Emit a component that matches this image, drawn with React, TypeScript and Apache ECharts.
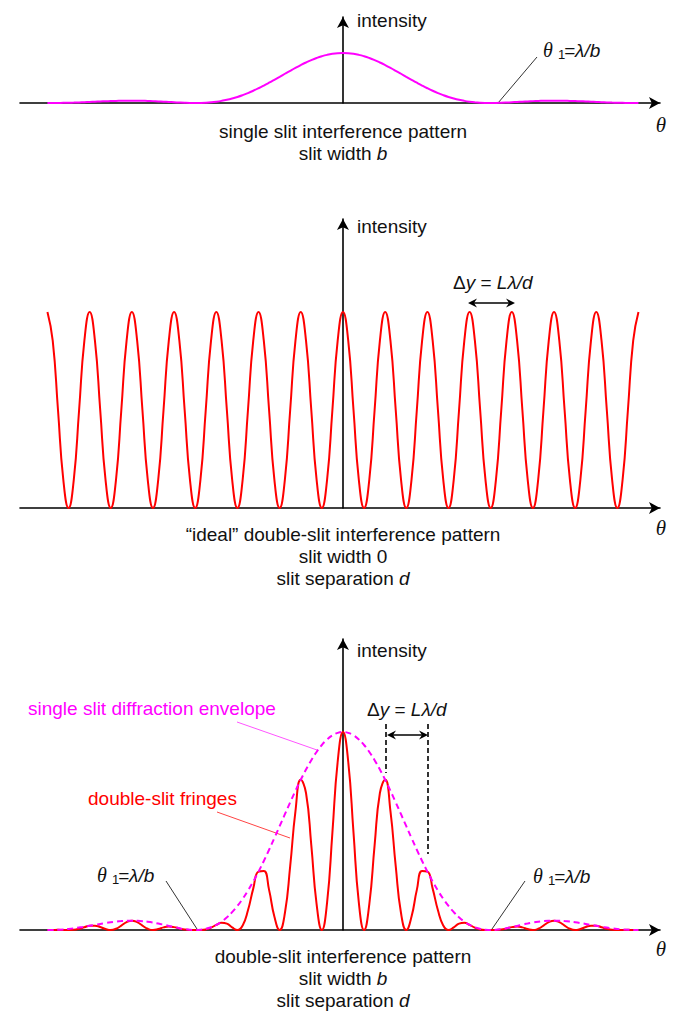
import React, { useEffect, useRef } from "react";
import * as echarts from "echarts";

// sampling positions along theta (in units of fringe spacing), right half; left half is the mirror image
const X_HALF = [
  0, 0.125, 0.25, 0.375, 0.5, 0.625, 0.75, 0.875,
  1, 1.125, 1.25, 1.375, 1.5, 1.625, 1.75, 1.875,
  2, 2.125, 2.25, 2.375, 2.5, 2.625, 2.75, 2.875,
  3, 3.125, 3.25, 3.375, 3.5, 3.625, 3.75, 3.875,
  4, 4.125, 4.25, 4.375, 4.5, 4.625, 4.75, 4.875,
  5, 5.125, 5.25, 5.375, 5.5, 5.625, 5.75, 5.875,
  6, 6.125, 6.25, 6.375, 6.5, 6.625, 6.75, 6.875,
  7,
];

// single slit intensity (normalised), read at X_HALF
const SINGLE_SLIT_HALF = [
  1, 0.9958, 0.9833, 0.9628, 0.9346, 0.8994, 0.8578, 0.8106,
  0.7587, 0.7031, 0.6448, 0.5849, 0.5243, 0.4641, 0.4053, 0.3486,
  0.2949, 0.2449, 0.199, 0.1578, 0.1214, 0.0901, 0.0638, 0.0425,
  0.026, 0.0139, 0.0058, 0.0014, 0, 0.0012, 0.0044, 0.009,
  0.0146, 0.0207, 0.0267, 0.0324, 0.0375, 0.0416, 0.0447, 0.0465,
  0.0472, 0.0467, 0.045, 0.0424, 0.039, 0.035, 0.0305, 0.0258,
  0.0211, 0.0165, 0.0124, 0.0086, 0.0055, 0.0031, 0.0014, 0.0003,
  0,
];

// ideal double slit intensity (normalised), read at X_HALF
const IDEAL_HALF = [
  1, 0.8536, 0.5, 0.1464, 0, 0.1464, 0.5, 0.8536,
  1, 0.8536, 0.5, 0.1464, 0, 0.1464, 0.5, 0.8536,
  1, 0.8536, 0.5, 0.1464, 0, 0.1464, 0.5, 0.8536,
  1, 0.8536, 0.5, 0.1464, 0, 0.1464, 0.5, 0.8536,
  1, 0.8536, 0.5, 0.1464, 0, 0.1464, 0.5, 0.8536,
  1, 0.8536, 0.5, 0.1464, 0, 0.1464, 0.5, 0.8536,
  1, 0.8536, 0.5, 0.1464, 0, 0.1464, 0.5, 0.8536,
  1,
];

// real double slit fringes (normalised), read at X_HALF
const FRINGES_HALF = [
  1, 0.85, 0.4917, 0.141, 0, 0.1317, 0.4289, 0.6919,
  0.7587, 0.6001, 0.3224, 0.0857, 0, 0.068, 0.2026, 0.2976,
  0.2949, 0.209, 0.0995, 0.0231, 0, 0.0132, 0.0319, 0.0363,
  0.026, 0.0118, 0.0029, 0.0002, 0, 0.0002, 0.0022, 0.0077,
  0.0146, 0.0176, 0.0134, 0.0048, 0, 0.0061, 0.0223, 0.0397,
  0.0472, 0.0398, 0.0225, 0.0062, 0, 0.0051, 0.0152, 0.022,
  0.0211, 0.0141, 0.0062, 0.0013, 0, 0.0005, 0.0007, 0.0003,
  0,
];

const Y_MAX = [1.72, 1.474, 1.47];
const X_MIN = -7.65;
const X_MAX = 7.51;

const SANS = '"Liberation Sans", Arial, sans-serif';
const SERIF = '"Liberation Serif", "Times New Roman", serif';
const INK = "#111";
const MAGENTA = "#ff00ff";
const RED = "#ff0000";

function mirror(half: number[]): [number, number][] {
  const out: [number, number][] = [];
  for (let i = X_HALF.length - 1; i > 0; i--) out.push([-X_HALF[i], half[i]]);
  for (let i = 0; i < X_HALF.length; i++) out.push([X_HALF[i], half[i]]);
  return out;
}

const GRIDS = [
  { left: 20, top: 17, width: 640, height: 86 },
  { left: 20, top: 219, width: 640, height: 289 },
  { left: 20, top: 639, width: 640, height: 291 },
];

const axisLine = {
  show: true,
  onZero: true,
  symbol: ["none", "arrow"],
  symbolSize: [9, 11],
  lineStyle: { color: "#000", width: 1.6 },
};

function text(x: number, y: number, str: string, opts: any = {}) {
  const size = opts.size || 19;
  const style = opts.style || "normal";
  const family = opts.family || SANS;
  const align = opts.align || "left";
  return {
    type: "text",
    x,
    y,
    silent: true,
    style: {
      text: str,
      fill: opts.color || INK,
      font: `${style} ${size}px ${family}`,
      fontSize: size,
      fontFamily: family,
      fontStyle: style,
      align,
      textAlign: align,
      verticalAlign: "middle",
      textVerticalAlign: "middle",
    },
  };
}

function richText(x: number, y: number, str: string, align = "center") {
  const tok = (fs: string) => ({
    fontSize: 19,
    fontFamily: SANS,
    fontStyle: fs,
    fill: INK,
    color: INK,
  });
  return {
    type: "text",
    x,
    y,
    silent: true,
    style: {
      text: str,
      fill: INK,
      font: `19px ${SANS}`,
      align,
      textAlign: align,
      verticalAlign: "middle",
      textVerticalAlign: "middle",
      rich: { n: tok("normal"), i: tok("italic") },
    },
  };
}

function seg(x1: number, y1: number, x2: number, y2: number, color = "#333", width = 1, dash?: number[]) {
  return {
    type: "line",
    silent: true,
    shape: { x1, y1, x2, y2 },
    style: { stroke: color, lineWidth: width, lineDash: dash },
  };
}

function doubleArrow(x1: number, x2: number, y: number) {
  return [
    seg(x1 + 2, y, x2 - 2, y, "#000", 1.6),
    {
      type: "polygon",
      silent: true,
      shape: { points: [[x1, y], [x1 + 9, y - 4.5], [x1 + 6, y], [x1 + 9, y + 4.5]] },
      style: { fill: "#000" },
    },
    {
      type: "polygon",
      silent: true,
      shape: { points: [[x2, y], [x2 - 9, y - 4.5], [x2 - 6, y], [x2 - 9, y + 4.5]] },
      style: { fill: "#000" },
    },
  ];
}

function thetaOne(x: number, y: number) {
  return [
    text(x, y, "θ", { style: "italic", family: SERIF, size: 20 }),
    text(x + 15, y + 4, "1", { size: 13 }),
    text(x + 21, y, "=λ/b", { style: "italic" }),
  ];
}

function thetaAxis(y: number) {
  return text(661, y, "θ", { style: "italic", family: SERIF, size: 21, align: "center" });
}

export default function App() {
  const ref = useRef<HTMLDivElement>(null);

  useEffect(() => {
    if (!ref.current) return;
    const chart = echarts.init(ref.current, null, { renderer: "svg" });

    const xAxes = GRIDS.map((_, i) => ({
      type: "value",
      gridIndex: i,
      min: X_MIN,
      max: X_MAX,
      axisLine,
      axisTick: { show: false },
      axisLabel: { show: false },
      splitLine: { show: false },
    }));
    const yAxes = GRIDS.map((_, i) => ({
      type: "value",
      gridIndex: i,
      min: 0,
      max: Y_MAX[i],
      axisLine,
      axisTick: { show: false },
      axisLabel: { show: false },
      splitLine: { show: false },
    }));

    const lineSeries = (idx: number, half: number[], color: string, dash?: number[]) => ({
      type: "line",
      xAxisIndex: idx,
      yAxisIndex: idx,
      data: mirror(half),
      smooth: true,
      symbol: "none",
      showSymbol: false,
      silent: true,
      lineStyle: { color, width: 2, type: dash || "solid" },
      itemStyle: { color },
      z: 3,
    });

    const graphics: any[] = [
      // panel 1
      text(357, 20, "intensity"),
      ...thetaOne(543, 50),
      seg(498, 103, 537, 57),
      text(343, 131, "single slit interference pattern", { align: "center" }),
      richText(343, 153, "{n|slit width }{i|b}"),
      thetaAxis(125),
      // panel 2
      text(357, 226, "intensity"),
      richText(453, 282, "{n|Δ}{i|y}{n| = }{i|Lλ/d}", "left"),
      ...doubleArrow(468, 515, 303),
      text(343, 534, "“ideal” double-slit interference pattern", { align: "center" }),
      text(343, 556, "slit width 0", { align: "center" }),
      richText(343, 578, "{n|slit separation }{i|d}"),
      thetaAxis(528),
      // panel 3
      text(357, 650, "intensity"),
      text(28, 708, "single slit diffraction envelope", { color: MAGENTA }),
      seg(237, 722, 317, 750, "#ff55ff", 1),
      text(88, 798, "double-slit fringes", { color: RED }),
      seg(217, 812, 290, 838, "#ff4444", 1),
      richText(367, 709, "{n|Δ}{i|y}{n| = }{i|Lλ/d}", "left"),
      ...doubleArrow(387, 428, 735),
      seg(386, 724, 386, 773, "#000", 1.6, [5, 3]),
      seg(428, 724, 428, 854, "#000", 1.6, [5, 3]),
      ...thetaOne(97, 875),
      seg(166, 881, 197, 929),
      ...thetaOne(533, 876),
      seg(525, 881, 492, 929),
      text(343, 956, "double-slit interference pattern", { align: "center" }),
      richText(343, 978, "{n|slit width }{i|b}"),
      richText(343, 1000, "{n|slit separation }{i|d}"),
      thetaAxis(949),
    ];

    chart.setOption({
      animation: false,
      backgroundColor: "#fff",
      grid: GRIDS,
      xAxis: xAxes,
      yAxis: yAxes,
      series: [
        lineSeries(0, SINGLE_SLIT_HALF, MAGENTA),
        lineSeries(1, IDEAL_HALF, RED),
        lineSeries(2, FRINGES_HALF, RED),
        lineSeries(2, SINGLE_SLIT_HALF, MAGENTA, [6, 4]),
      ],
      graphic: graphics,
    });

    return () => chart.dispose();
  }, []);

  return (
    <div
      ref={ref}
      style={{ position: "absolute", left: 0, top: 0, width: 692, height: 1023, background: "#fff" }}
    />
  );
}
